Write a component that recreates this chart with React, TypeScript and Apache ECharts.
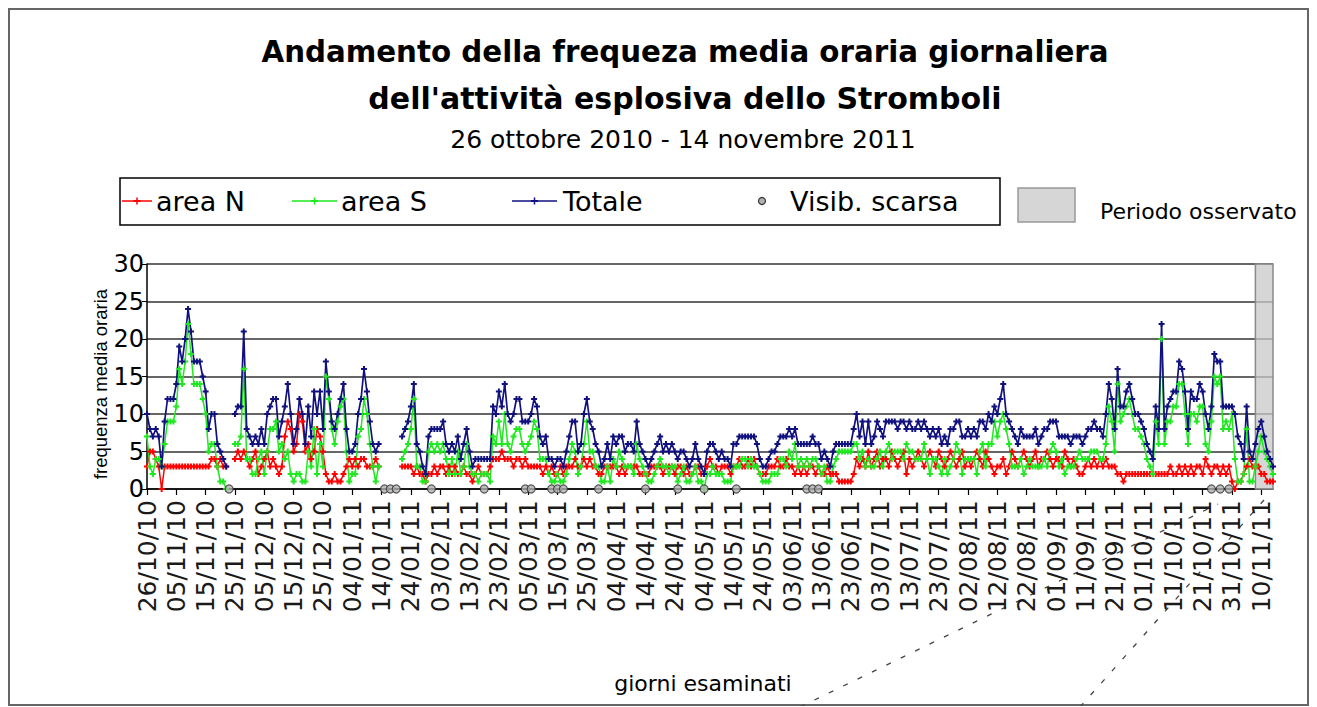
import React, { useEffect, useRef } from "react";
import * as echarts from "echarts";

const _ = null;

// area N (red) – daily mean hourly frequency, 26/10/2010 .. 14/11/2011
const areaN = [
  3, 5, 5, 4, 3, 0, 3, 3, 3, 3,
  3, 3, 3, 3, 3, 3, 3, 3, 3, 3,
  3, 3, 4, 4, 3, 4, 3, 3, _, _,
  4, 5, 4, 5, 4, 3, 4, 5, 2, 3,
  4, 5, 3, 4, 3, 2, 3, 7, 9, 8,
  5, 6, 10, 9, 5, 6, 4, 5, 8, 7,
  5, 2, 1, 1, 2, 1, 1, 2, 3, 4,
  3, 4, 3, 4, 4, 3, 3, 3, 4, 3,
  _, _, _, _, _, _, _, 3, 3, 3,
  3, 2, 3, 2, 2, 1, 2, 2, 3, 2,
  3, 3, 2, 3, 2, 3, 2, 2, 3, 2,
  2, 1, 2, 3, 2, 2, 2, 3, 4, 4,
  4, 5, 4, 4, 4, 3, 4, 4, 3, 4,
  3, 3, 3, 3, 3, 2, 3, 2, 3, 2,
  2, 3, 2, 3, 3, 3, 4, 3, 3, 4,
  3, 4, 3, 3, 2, 2, 3, 3, 3, 3,
  3, 2, 3, 2, 3, 3, 3, 3, 2, 2,
  2, 2, 3, 3, 3, 3, 2, 3, 3, 3,
  2, 3, 3, 2, 3, 2, 2, 3, 3, 2,
  2, 3, 4, 3, 3, 2, 3, 3, 3, 2,
  3, 3, 4, 3, 3, 4, 3, 4, 3, 2,
  2, 2, 3, 3, 3, 4, 3, 3, 4, 3,
  3, 2, 3, 2, 3, 2, 3, 3, 2, 3,
  2, 2, 3, 2, 2, 2, 1, 1, 1, 1,
  1, 2, 4, 3, 4, 3, 5, 3, 4, 5,
  3, 4, 4, 3, 5, 4, 3, 4, 5, 2,
  4, 3, 4, 5, 4, 3, 4, 5, 4, 3,
  5, 4, 3, 4, 5, 4, 3, 4, 5, 3,
  4, 3, 4, 5, 4, 3, 5, 4, 3, 2,
  3, 3, 4, 2, 3, 5, 4, 3, 4, 5,
  4, 3, 4, 5, 3, 4, 4, 5, 4, 3,
  4, 4, 3, 5, 4, 3, 4, 3, 2, 2,
  3, 4, 3, 4, 3, 4, 3, 4, 3, 3,
  3, 2, 2, 1, 2, 2, 2, 2, 2, 2,
  2, 2, 2, 2, 2, 2, 2, 2, 2, 3,
  2, 2, 3, 2, 3, 2, 3, 2, 3, 3,
  2, 4, 3, 2, 3, 3, 2, 3, 2, 3,
  1, 0, 1, 1, 2, 3, 4, 3, 3, 3,
  2, 2, 1, 1, 1,
];

// area S (green)
const areaS = [
  7, 3, 2, 4, 4, 3, 6, 9, 9, 9,
  11, 16, 14, 17, 22, 18, 14, 14, 14, 12,
  10, 5, 6, 6, 3, 1, 1, 0, _, _,
  6, 6, 7, 16, 4, 4, 2, 2, 4, 5,
  2, 5, 8, 8, 9, 5, 6, 4, 5, 2,
  1, 2, 2, 1, 1, 5, 3, 8, 2, 6,
  3, 15, 12, 8, 6, 9, 11, 12, 5, 1,
  2, 2, 7, 8, 12, 10, 6, 3, 1, 3,
  _, _, _, _, _, _, _, 4, 5, 6,
  8, 12, 3, 3, 1, 1, 5, 6, 5, 6,
  5, 6, 4, 2, 4, 2, 5, 2, 3, 6,
  3, 2, 2, 1, 2, 2, 2, 1, 7, 6,
  9, 6, 10, 6, 5, 7, 8, 8, 6, 5,
  6, 7, 9, 8, 4, 4, 4, 2, 1, 1,
  2, 1, 1, 2, 4, 6, 5, 2, 3, 6,
  9, 5, 5, 3, 3, 1, 1, 3, 1, 4,
  3, 5, 4, 3, 3, 3, 2, 6, 4, 3,
  2, 1, 1, 2, 3, 4, 3, 3, 2, 3,
  3, 1, 2, 3, 1, 1, 2, 3, 1, 1,
  0, 2, 2, 3, 2, 2, 2, 1, 1, 1,
  3, 3, 3, 4, 4, 3, 4, 3, 3, 2,
  1, 1, 1, 2, 2, 2, 4, 4, 3, 5,
  4, 6, 3, 4, 3, 4, 3, 4, 4, 3,
  2, 3, 1, 1, 3, 4, 5, 5, 5, 5,
  5, 6, 6, 4, 5, 3, 4, 3, 3, 4,
  5, 3, 5, 6, 4, 5, 5, 5, 4, 6,
  5, 5, 4, 4, 4, 6, 4, 2, 4, 4,
  3, 2, 4, 2, 3, 4, 6, 5, 2, 4,
  4, 4, 4, 2, 5, 6, 3, 6, 6, 9,
  7, 9, 10, 8, 6, 3, 3, 3, 4, 2,
  3, 4, 3, 3, 3, 3, 4, 3, 5, 6,
  5, 3, 4, 2, 3, 3, 3, 4, 5, 4,
  4, 4, 5, 5, 5, 4, 4, 6, 11, 9,
  5, 14, 9, 10, 11, 12, 10, 8, 8, 7,
  6, 4, 3, 2, 9, 6, 20, 6, 9, 9,
  11, 11, 14, 14, 10, 6, 10, 10, 9, 11,
  11, 6, 5, 9, 15, 14, 15, 8, 9, 8,
  10, 4, 1, 1, 2, 8, 1, 1, 3, 5,
  7, 5, 4, 3, 2,
];

// Totale (blue)
const totale = [
  10, 8, 7, 8, 7, 3, 9, 12, 12, 12,
  14, 19, 17, 20, 24, 21, 17, 17, 17, 15,
  13, 8, 10, 10, 6, 5, 4, 3, _, _,
  10, 11, 11, 21, 8, 7, 6, 7, 6, 8,
  6, 10, 11, 12, 12, 7, 9, 11, 14, 10,
  6, 8, 12, 10, 6, 11, 7, 13, 10, 13,
  8, 17, 13, 9, 8, 10, 12, 14, 8, 5,
  5, 6, 10, 12, 16, 13, 9, 6, 5, 6,
  _, _, _, _, _, _, _, 7, 8, 9,
  11, 14, 6, 5, 3, 2, 7, 8, 8, 8,
  8, 9, 6, 5, 6, 5, 7, 4, 6, 8,
  5, 3, 4, 4, 4, 4, 4, 4, 11, 10,
  13, 11, 14, 10, 9, 10, 12, 12, 9, 9,
  9, 10, 12, 11, 7, 6, 7, 4, 4, 3,
  4, 4, 3, 5, 7, 9, 9, 5, 6, 10,
  12, 9, 8, 6, 5, 3, 4, 6, 4, 7,
  6, 7, 7, 5, 6, 6, 5, 9, 6, 5,
  4, 3, 4, 5, 6, 7, 5, 6, 5, 6,
  5, 4, 5, 5, 4, 3, 4, 6, 4, 3,
  2, 5, 6, 6, 5, 4, 5, 4, 4, 3,
  6, 6, 7, 7, 7, 7, 7, 7, 6, 4,
  3, 3, 4, 5, 5, 6, 7, 7, 7, 8,
  7, 8, 6, 6, 6, 6, 6, 7, 6, 6,
  4, 5, 4, 3, 5, 6, 6, 6, 6, 6,
  6, 8, 10, 7, 9, 6, 9, 6, 7, 9,
  8, 7, 9, 9, 9, 9, 8, 9, 9, 8,
  9, 8, 8, 9, 8, 9, 8, 7, 8, 7,
  8, 6, 7, 6, 8, 8, 9, 9, 7, 7,
  8, 7, 8, 7, 9, 9, 8, 10, 9, 11,
  10, 12, 14, 10, 9, 8, 7, 6, 8, 7,
  7, 7, 7, 8, 6, 7, 8, 8, 9, 9,
  9, 7, 7, 7, 7, 6, 7, 7, 7, 6,
  7, 8, 8, 9, 8, 8, 7, 10, 14, 12,
  8, 16, 11, 11, 13, 14, 12, 10, 10, 9,
  8, 6, 5, 4, 11, 8, 22, 8, 11, 12,
  13, 13, 17, 16, 13, 8, 13, 12, 12, 14,
  13, 10, 8, 11, 18, 17, 17, 11, 11, 11,
  11, 10, 7, 6, 4, 11, 5, 4, 6, 8,
  9, 7, 5, 4, 3,
];

// days (index from 26/10/2010) with poor visibility
const visibScarsaDays = [28, 81, 83, 85, 97, 115, 129, 131, 138, 140, 142, 154, 170, 181, 190, 201, 225, 227, 229, 363, 366, 369];

// observed period (shaded), as day indices
const periodoOsservato = [378, 384];

const TITLE_1 = "Andamento della frequeza media oraria giornaliera";
const TITLE_2 = "dell'attività esplosiva dello Stromboli";
const SUBTITLE = "26 ottobre 2010 - 14 novembre 2011";

function dayLabels(count: number): string[] {
  const out: string[] = [];
  const d = new Date(Date.UTC(2010, 9, 26));
  for (let i = 0; i < count; i++) {
    const dd = String(d.getUTCDate()).padStart(2, "0");
    const mm = String(d.getUTCMonth() + 1).padStart(2, "0");
    const yy = String(d.getUTCFullYear() % 100).padStart(2, "0");
    out.push(`${dd}/${mm}/${yy}`);
    d.setUTCDate(d.getUTCDate() + 1);
  }
  return out;
}

const FONT = '"Liberation Sans", Arial, sans-serif';
const WIDE = '"DejaVu Sans", sans-serif';
const PLUS = "path://M2,0H4V2H6V4H4V6H2V4H0V2H2Z";
const RED = "#ff0000";
const GREEN = "#1ee81e";
const BLUE = "#10107e";

function txt(x: number, y: number, text: string, size: number, opts: any = {}) {
  return {
    type: "text",
    x,
    y,
    rotation: opts.rotation || 0,
    style: {
      text,
      fontSize: size,
      fontFamily: opts.family || WIDE,
      fontWeight: opts.bold ? "bold" : "normal",
      fill: "#000",
      align: opts.align || "left",
      textAlign: opts.align || "left",
      verticalAlign: "middle",
      textVerticalAlign: "middle",
    },
  };
}

function legendLine(x1: number, x2: number, y: number, color: string) {
  const cx = (x1 + x2) / 2;
  return [
    { type: "line", shape: { x1, y1: y, x2, y2: y }, style: { stroke: color, lineWidth: 1.5 } },
    { type: "line", shape: { x1: cx, y1: y - 3.5, x2: cx, y2: y + 3.5 }, style: { stroke: color, lineWidth: 1.5 } },
    { type: "line", shape: { x1: cx - 3.5, y1: y, x2: cx + 3.5, y2: y }, style: { stroke: color, lineWidth: 2 } },
  ];
}

export default function App() {
  const ref = useRef<HTMLDivElement>(null);
  useEffect(() => {
    if (!ref.current) return;
    const chart = echarts.init(ref.current, null, { renderer: "svg" });
    const cats = dayLabels(totale.length);
    const lineSeries = (name: string, data: any[], color: string, width: number) => ({
      name,
      type: "line",
      data,
      symbol: PLUS,
      symbolSize: 6,
      showSymbol: true,
      showAllSymbol: true,
      connectNulls: false,
      lineStyle: { color, width },
      itemStyle: { color },
      emphasis: { disabled: true },
    });
    const ly = 193;
    const option: any = {
      animation: false,
      backgroundColor: "#ffffff",
      grid: { left: 139, top: 256, width: 1126, height: 225 },
      xAxis: {
        type: "category",
        data: cats,
        boundaryGap: false,
        axisLine: { lineStyle: { color: "#000", width: 1.5 } },
        axisTick: { interval: 9, length: 6, lineStyle: { color: "#000", width: 1.2 } },
        axisLabel: {
          interval: 9,
          rotate: 90,
          fontSize: 25,
          fontFamily: WIDE,
          color: "#1a1a1a",
          margin: 11,
        },
        splitLine: { show: false },
      },
      yAxis: {
        type: "value",
        min: 0,
        max: 30,
        interval: 5,
        axisLine: { show: true, lineStyle: { color: "#000", width: 1.5 } },
        axisTick: { show: true, length: 5, lineStyle: { color: "#000" } },
        axisLabel: { fontSize: 24, fontFamily: WIDE, color: "#000", margin: 3 },
        splitLine: { lineStyle: { color: "#333", width: 1.6 } },
      },
      series: [
        {
          ...lineSeries("area N", areaN, RED, 1.5),
          markArea: {
            silent: true,
            itemStyle: { color: "rgba(200,200,200,0.75)", borderColor: "#8a8a8a", borderWidth: 1.5 },
            data: [[{ xAxis: cats[periodoOsservato[0]] }, { xAxis: cats[periodoOsservato[1]] }]],
          },
        },
        lineSeries("area S", areaS, GREEN, 1.5),
        lineSeries("Totale", totale, BLUE, 1.7),
        {
          name: "Visib. scarsa",
          type: "scatter",
          data: visibScarsaDays.map((d) => [cats[d], 0]),
          symbol: "circle",
          symbolSize: 8,
          clip: false,
          itemStyle: { color: "#b0b0b0", borderColor: "#333", borderWidth: 1.2 },
          z: 5,
        },
      ],
      graphic: [
        { type: "rect", shape: { x: 1, y: 1, width: 1299, height: 696 }, style: { fill: "none", stroke: "#666", lineWidth: 2 } },
        txt(677, 44, TITLE_1, 29.3, { bold: true, align: "center" }),
        txt(677, 90, TITLE_2, 30, { bold: true, align: "center" }),
        txt(675, 131, SUBTITLE, 25, { align: "center" }),
        { type: "rect", shape: { x: 112, y: 170, width: 880, height: 47 }, style: { fill: "#fff", stroke: "#000", lineWidth: 1.5 } },
        ...legendLine(114, 144, ly, RED),
        txt(148, ly, "area N", 27),
        ...legendLine(284, 329, ly, GREEN),
        txt(333, ly, "area S", 27),
        ...legendLine(504, 549, ly, BLUE),
        txt(555, ly, "Totale", 27),
        { type: "circle", shape: { cx: 754, cy: ly, r: 3.5 }, style: { fill: "#b0b0b0", stroke: "#333", lineWidth: 1.2 } },
        txt(782, ly, "Visib. scarsa", 27),
        { type: "rect", shape: { x: 1010, y: 180, width: 57, height: 34 }, style: { fill: "#d6d6d6", stroke: "#999", lineWidth: 1.5 } },
        txt(1092, 203, "Periodo osservato", 22),
        txt(92, 376, "frequenza media oraria", 18.5, { align: "center", rotation: Math.PI / 2, family: FONT }),
        txt(695, 675, "giorni esaminati", 22, { align: "center" }),
        { type: "line", shape: { x1: 792, y1: 699, x2: 1210, y2: 496 }, style: { stroke: "#444", lineWidth: 1.3, lineDash: [5, 11] } },
        { type: "line", shape: { x1: 1072, y1: 699, x2: 1256, y2: 492 }, style: { stroke: "#444", lineWidth: 1.3, lineDash: [5, 11] } },
      ],
    };
    chart.setOption(option);
    return () => chart.dispose();
  }, []);
  return <div ref={ref} style={{ width: 1301, height: 698 }} />;
}
